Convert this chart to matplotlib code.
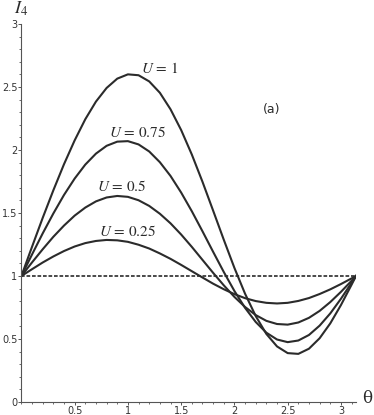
import numpy as np
import matplotlib.pyplot as plt
from matplotlib.ticker import MultipleLocator, FuncFormatter
from matplotlib.transforms import offset_copy

plt.rcParams['mathtext.fontset'] = 'stix'

# values, theta from 0 to pi
theta = [0.0, 0.1, 0.2, 0.3, 0.4, 0.5, 0.6, 0.7, 0.8, 0.9, 1.0, 1.1, 1.2, 1.3, 1.4, 1.5,
         1.6, 1.7, 1.8, 1.9, 2.0, 2.1, 2.2, 2.3, 2.4, 2.5, 2.6, 2.7, 2.8, 2.9, 3.0, 3.1, 3.1416]
I_u1 = [1.000, 1.232, 1.461, 1.680, 1.887, 2.076, 2.244, 2.384, 2.492, 2.566, 2.600, 2.593,
        2.544, 2.454, 2.323, 2.158, 1.964, 1.748, 1.519, 1.288, 1.064, 0.859, 0.682, 0.540,
        0.441, 0.388, 0.382, 0.423, 0.506, 0.624, 0.769, 0.931, 1.000]
I_u075 = [1.000, 1.171, 1.338, 1.496, 1.643, 1.773, 1.884, 1.971, 2.033, 2.066, 2.070, 2.044,
          1.988, 1.903, 1.794, 1.662, 1.514, 1.355, 1.192, 1.032, 0.881, 0.747, 0.635, 0.550,
          0.496, 0.475, 0.488, 0.532, 0.606, 0.703, 0.819, 0.946, 1.000]
I_u05 = [1.000, 1.108, 1.212, 1.311, 1.400, 1.479, 1.543, 1.592, 1.623, 1.635, 1.628, 1.601,
         1.556, 1.494, 1.418, 1.329, 1.231, 1.128, 1.025, 0.926, 0.834, 0.754, 0.690, 0.644,
         0.619, 0.614, 0.631, 0.668, 0.723, 0.793, 0.874, 0.962, 1.000]
I_u025 = [1.000, 1.054, 1.107, 1.155, 1.198, 1.234, 1.261, 1.278, 1.286, 1.283, 1.271, 1.248,
          1.218, 1.179, 1.136, 1.088, 1.038, 0.988, 0.939, 0.895, 0.856, 0.824, 0.801, 0.787,
          0.782, 0.787, 0.802, 0.825, 0.857, 0.894, 0.936, 0.981, 1.000]
curves = [I_u1, I_u075, I_u05, I_u025]
labels = ['$U$ = 1', '$U$ = 0.75', '$U$ = 0.5', '$U$ = 0.25']
label_pos = [(1.30, 2.65), (1.09, 2.14), (0.94, 1.71), (1.00, 1.35)]

fig = plt.figure(figsize=(3.74, 4.15), dpi=100)
ax = fig.add_axes([0.0572, 0.0313, 0.8947, 0.911])
ink = '#2b2b2b'
for I in curves:
    ax.plot(theta, I, color=ink, lw=1.5, solid_joinstyle='round')
ax.axhline(1, color=ink, lw=1.2, dashes=(2.2, 1.1))

for lab, (x, y) in zip(labels, label_pos):
    ax.text(x, y, lab, fontsize=11, ha='center', va='center', color=ink,
            family='STIXGeneral')
ax.text(2.35, 2.32, '(a)', fontsize=9, ha='center', va='center', color=ink)

ax.set_xlim(0, np.pi)
ax.set_ylim(0, 3)
for s in ['top', 'right']:
    ax.spines[s].set_visible(False)
for s in ['left', 'bottom']:
    ax.spines[s].set_color('#555555')
    ax.spines[s].set_linewidth(0.8)

fmt = FuncFormatter(lambda v, p: '%g' % v)
ax.xaxis.set_major_locator(MultipleLocator(0.5))
ax.xaxis.set_minor_locator(MultipleLocator(0.1))
ax.yaxis.set_major_locator(MultipleLocator(0.5))
ax.yaxis.set_minor_locator(MultipleLocator(0.1))
ax.set_xticks([0.5, 1, 1.5, 2, 2.5, 3])
ax.xaxis.set_major_formatter(fmt)
ax.yaxis.set_major_formatter(fmt)
ax.tick_params(which='major', length=2.5, width=0.7, color='#555555', labelsize=7,
               labelcolor='#333333', pad=0.3)
ax.tick_params(which='minor', length=1.3, width=0.6, color='#555555')

ax.text(0.0, 1.0, '$I_4$', fontsize=13, ha='center', va='bottom', color=ink,
        transform=offset_copy(ax.transAxes, fig=fig, x=0, y=4, units='points'))
ax.text(1.033, 0.008, 'θ', transform=ax.transAxes, fontsize=12, ha='center', va='center',
        color=ink, family='DejaVu Serif')

fig.savefig('out.png')
